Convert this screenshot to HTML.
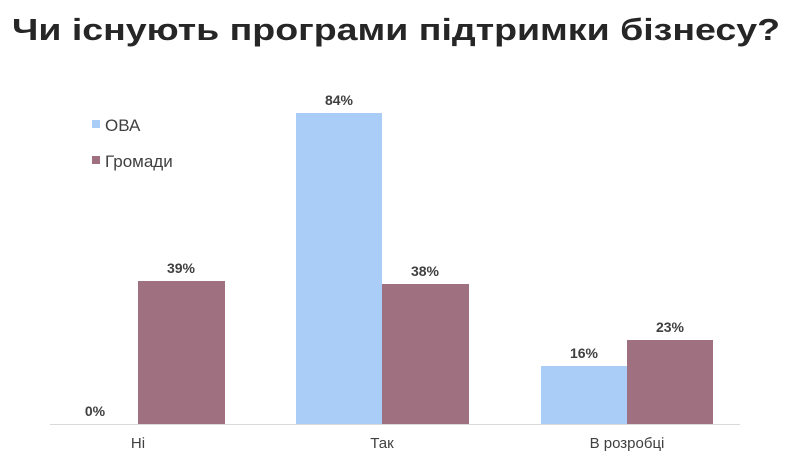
<!DOCTYPE html>
<html><head><meta charset="utf-8"><style>
body{margin:0;background:#fff;}
svg{display:block;font-family:"Liberation Sans","DejaVu Sans",sans-serif;}
</style></head><body>
<svg width="794" height="471" viewBox="0 0 794 471">
<rect width="794" height="471" fill="#fff"/>
<text x="12" y="40" textLength="768" lengthAdjust="spacingAndGlyphs" font-size="31" font-weight="bold" fill="#262626">Чи існують програми підтримки бізнесу?</text>
<rect x="92" y="120" width="8" height="8" fill="#a9cdf7"/>
<text x="105" y="131" font-size="17" fill="#404040">ОВА</text>
<rect x="92" y="156" width="8" height="8" fill="#9e7080"/>
<text x="105" y="167" font-size="17" fill="#404040">Громади</text>
<g fill="#9e7080">
<rect x="138" y="281" width="87" height="143"/>
<rect x="382" y="284" width="87" height="140"/>
<rect x="627" y="340" width="86" height="84"/>
</g>
<g fill="#a9cdf7">
<rect x="296" y="113" width="86" height="311"/>
<rect x="541" y="366" width="86" height="58"/>
</g>
<line x1="50" y1="424.5" x2="740" y2="424.5" stroke="#d9d9d9" stroke-width="1"/>
<g font-size="14" font-weight="bold" fill="#404040" text-anchor="middle">
<text x="95" y="416">0%</text>
<text x="181" y="273">39%</text>
<text x="339" y="105">84%</text>
<text x="425" y="276">38%</text>
<text x="584" y="358">16%</text>
<text x="670" y="332">23%</text>
</g>
<g font-size="15" fill="#404040" text-anchor="middle">
<text x="138" y="448">Ні</text>
<text x="382" y="448">Так</text>
<text x="627" y="448">В розробці</text>
</g>
</svg>
</body></html>
